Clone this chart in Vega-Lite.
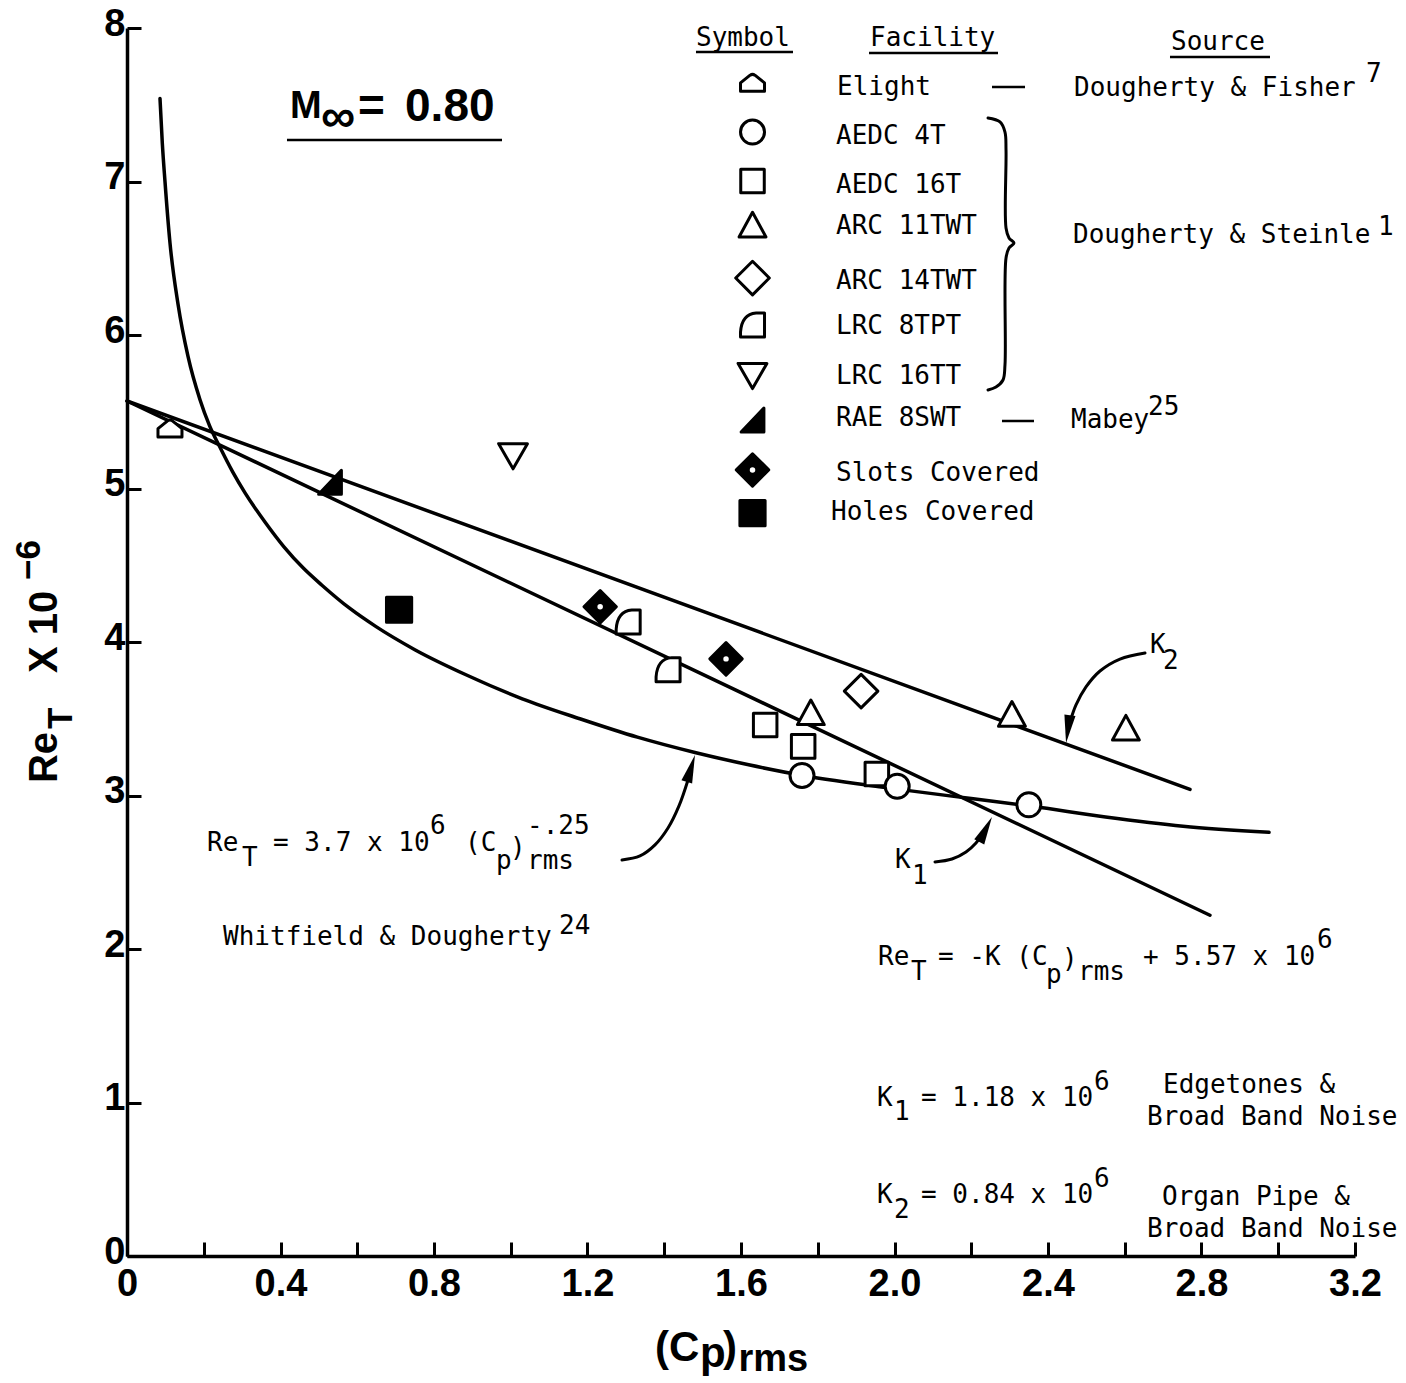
{
  "$schema": "https://vega.github.io/schema/vega-lite/v6.json",
  "width": 1228,
  "height": 1228,
  "autosize": {"type": "none"},
  "padding": {"left": 127, "top": 28, "right": 51, "bottom": 127},
  "background": "white",
  "config": {"view": {"stroke": null}},
  "datasets": {
    "pts": [
      {"type": "Elight", "x": 0.112, "y": 5.39},
      {"type": "LRC 8TPT", "x": 1.306, "y": 4.13},
      {"type": "LRC 8TPT", "x": 1.410, "y": 3.82},
      {"type": "RAE 8SWT", "x": 0.529, "y": 5.04},
      {"type": "LRC 16TT", "x": 1.006, "y": 5.21},
      {"type": "Holes Covered", "x": 0.709, "y": 4.21},
      {"type": "Slots Covered", "x": 1.233, "y": 4.23},
      {"type": "Slots Covered", "x": 1.561, "y": 3.89},
      {"type": "AEDC 16T", "x": 1.663, "y": 3.46},
      {"type": "AEDC 16T", "x": 1.762, "y": 3.32},
      {"type": "AEDC 16T", "x": 1.954, "y": 3.14},
      {"type": "ARC 11TWT", "x": 1.782, "y": 3.54},
      {"type": "ARC 11TWT", "x": 2.306, "y": 3.53},
      {"type": "ARC 11TWT", "x": 2.603, "y": 3.44},
      {"type": "ARC 14TWT", "x": 1.913, "y": 3.68},
      {"type": "AEDC 4T", "x": 1.759, "y": 3.13},
      {"type": "AEDC 4T", "x": 2.007, "y": 3.06},
      {"type": "AEDC 4T", "x": 2.350, "y": 2.94},
      {"type": "Elight", "x": 1.630, "y": 7.642},
      {"type": "AEDC 4T", "x": 1.630, "y": 7.322},
      {"type": "AEDC 16T", "x": 1.630, "y": 7.003},
      {"type": "ARC 11TWT", "x": 1.630, "y": 6.717},
      {"type": "ARC 14TWT", "x": 1.630, "y": 6.371},
      {"type": "LRC 8TPT", "x": 1.630, "y": 6.065},
      {"type": "LRC 16TT", "x": 1.630, "y": 5.733},
      {"type": "RAE 8SWT", "x": 1.630, "y": 5.446},
      {"type": "Slots Covered", "x": 1.630, "y": 5.121},
      {"type": "Holes Covered", "x": 1.630, "y": 4.840}
    ],
    "curve": [
      {"x": 0.086, "y": 7.54}, {"x": 0.092, "y": 7.25}, {"x": 0.099, "y": 7.00},
      {"x": 0.112, "y": 6.60}, {"x": 0.133, "y": 6.20}, {"x": 0.159, "y": 5.86},
      {"x": 0.190, "y": 5.58}, {"x": 0.215, "y": 5.41}, {"x": 0.242, "y": 5.27},
      {"x": 0.275, "y": 5.11}, {"x": 0.308, "y": 4.97}, {"x": 0.360, "y": 4.78},
      {"x": 0.409, "y": 4.62}, {"x": 0.460, "y": 4.48}, {"x": 0.508, "y": 4.37},
      {"x": 0.580, "y": 4.22}, {"x": 0.649, "y": 4.10}, {"x": 0.750, "y": 3.95},
      {"x": 0.889, "y": 3.78}, {"x": 1.030, "y": 3.63}, {"x": 1.180, "y": 3.50},
      {"x": 1.330, "y": 3.38}, {"x": 1.480, "y": 3.28}, {"x": 1.620, "y": 3.20},
      {"x": 1.762, "y": 3.13}, {"x": 2.012, "y": 3.04}, {"x": 2.200, "y": 2.98},
      {"x": 2.358, "y": 2.93}, {"x": 2.550, "y": 2.86}, {"x": 2.752, "y": 2.80},
      {"x": 2.976, "y": 2.76}
    ],
    "klines": [
      {"line": "K1", "x": 0, "y": 5.57}, {"line": "K1", "x": 2.822, "y": 2.22},
      {"line": "K2", "x": 0, "y": 5.57}, {"line": "K2", "x": 2.770, "y": 3.04}
    ],
    "arrows": [
      {"id": "pow", "o": 1, "x": 1.2899, "y": 2.580},
      {"id": "pow", "o": 2, "x": 1.3368, "y": 2.606},
      {"id": "pow", "o": 3, "x": 1.3759, "y": 2.678},
      {"id": "pow", "o": 4, "x": 1.4098, "y": 2.788},
      {"id": "pow", "o": 5, "x": 1.4384, "y": 2.932},
      {"id": "pow", "o": 6, "x": 1.4619, "y": 3.101},
      {"id": "k2", "o": 1, "x": 2.6528, "y": 3.928},
      {"id": "k2", "o": 2, "x": 2.5876, "y": 3.889},
      {"id": "k2", "o": 3, "x": 2.5355, "y": 3.811},
      {"id": "k2", "o": 4, "x": 2.4990, "y": 3.707},
      {"id": "k2", "o": 5, "x": 2.4730, "y": 3.590},
      {"id": "k2", "o": 6, "x": 2.4573, "y": 3.479},
      {"id": "k1", "o": 1, "x": 2.1055, "y": 2.567},
      {"id": "k1", "o": 2, "x": 2.1498, "y": 2.586},
      {"id": "k1", "o": 3, "x": 2.1863, "y": 2.632},
      {"id": "k1", "o": 4, "x": 2.2124, "y": 2.691},
      {"id": "k1", "o": 5, "x": 2.2280, "y": 2.743}
    ],
    "brace": [
      {"o": 1, "x": 2.2437, "y": 7.414}, {"o": 2, "x": 2.2749, "y": 7.388},
      {"o": 3, "x": 2.2879, "y": 7.322}, {"o": 4, "x": 2.2906, "y": 7.205},
      {"o": 5, "x": 2.2906, "y": 6.697}, {"o": 6, "x": 2.2984, "y": 6.632},
      {"o": 7, "x": 2.3114, "y": 6.599}, {"o": 8, "x": 2.2984, "y": 6.567},
      {"o": 9, "x": 2.2906, "y": 6.502}, {"o": 10, "x": 2.2879, "y": 5.805},
      {"o": 11, "x": 2.2827, "y": 5.707}, {"o": 12, "x": 2.2645, "y": 5.661},
      {"o": 13, "x": 2.2437, "y": 5.642}
    ],
    "segs": [
      {"name": "Symbol", "x": 1.4827, "x2": 1.7355, "y": 7.844},
      {"name": "Facility", "x": 1.9336, "x2": 2.2697, "y": 7.837},
      {"name": "Source", "x": 2.7179, "x2": 2.9785, "y": 7.811},
      {"name": "dash Elight", "x": 2.2541, "x2": 2.3401, "y": 7.616},
      {"name": "dash RAE", "x": 2.2801, "x2": 2.3635, "y": 5.440},
      {"name": "Mach", "x": 0.4169, "x2": 0.9772, "y": 7.270}
    ],
    "mono": [
      {"text": "Symbol", "x": 1.4827, "y": 7.935},
      {"text": "Facility", "x": 1.9362, "y": 7.935},
      {"text": "Source", "x": 2.7205, "y": 7.909},
      {"text": "Elight", "x": 1.8502, "y": 7.616},
      {"text": "AEDC 4T", "x": 1.8476, "y": 7.296},
      {"text": "AEDC 16T", "x": 1.8476, "y": 6.977},
      {"text": "ARC 11TWT", "x": 1.8476, "y": 6.710},
      {"text": "ARC 14TWT", "x": 1.8476, "y": 6.352},
      {"text": "LRC 8TPT", "x": 1.8476, "y": 6.059},
      {"text": "LRC 16TT", "x": 1.8476, "y": 5.733},
      {"text": "RAE 8SWT", "x": 1.8476, "y": 5.459},
      {"text": "Slots Covered", "x": 1.8476, "y": 5.101},
      {"text": "Holes Covered", "x": 1.8345, "y": 4.847},
      {"text": "Dougherty & Fisher", "x": 2.4678, "y": 7.609},
      {"text": "7", "x": 3.2287, "y": 7.700},
      {"text": "Dougherty & Steinle", "x": 2.4651, "y": 6.651},
      {"text": "1", "x": 3.2599, "y": 6.704},
      {"text": "Mabey", "x": 2.4599, "y": 5.446},
      {"text": "25", "x": 2.6606, "y": 5.531},
      {"text": "Re", "x": 0.2085, "y": 2.691},
      {"text": "T", "x": 0.2997, "y": 2.593},
      {"text": "= 3.7 x 10", "x": 0.3805, "y": 2.691},
      {"text": "6", "x": 0.7896, "y": 2.801},
      {"text": "(C", "x": 0.8808, "y": 2.691},
      {"text": "p", "x": 0.9616, "y": 2.573},
      {"text": ")", "x": 0.9980, "y": 2.66},
      {"text": "rms", "x": 1.0423, "y": 2.573},
      {"text": "-.25", "x": 1.0423, "y": 2.801},
      {"text": "Whitfield & Dougherty", "x": 0.2502, "y": 2.078},
      {"text": "24", "x": 1.1257, "y": 2.150},
      {"text": "Re", "x": 1.9570, "y": 1.948},
      {"text": "T", "x": 2.0430, "y": 1.850},
      {"text": "= -K (C", "x": 2.1134, "y": 1.948},
      {"text": "p", "x": 2.3948, "y": 1.831},
      {"text": ")", "x": 2.4365, "y": 1.935},
      {"text": "rms", "x": 2.4782, "y": 1.850},
      {"text": "+ 5.57 x 10", "x": 2.6476, "y": 1.948},
      {"text": "6", "x": 3.1010, "y": 2.059},
      {"text": "K", "x": 1.9544, "y": 1.029},
      {"text": "1", "x": 1.9987, "y": 0.938},
      {"text": "= 1.18 x 10", "x": 2.0691, "y": 1.029},
      {"text": "6", "x": 2.5199, "y": 1.134},
      {"text": "Edgetones &", "x": 2.6997, "y": 1.114},
      {"text": "Broad Band Noise", "x": 2.6580, "y": 0.906},
      {"text": "K", "x": 1.9544, "y": 0.397},
      {"text": "2", "x": 1.9987, "y": 0.300},
      {"text": "= 0.84 x 10", "x": 2.0691, "y": 0.397},
      {"text": "6", "x": 2.5199, "y": 0.502},
      {"text": "Organ Pipe &", "x": 2.6971, "y": 0.384},
      {"text": "Broad Band Noise", "x": 2.6580, "y": 0.176},
      {"text": "K", "x": 2.0013, "y": 2.580},
      {"text": "1", "x": 2.0456, "y": 2.476},
      {"text": "K", "x": 2.6658, "y": 3.980},
      {"text": "2", "x": 2.6997, "y": 3.876}
    ],
    "bold": [
      {"text": "M", "role": "sub", "x": 0.4248, "y": 7.485},
      {"text": "∞", "role": "inf", "x": 0.5055, "y": 7.414},
      {"text": "=", "role": "big", "x": 0.6020, "y": 7.485},
      {"text": "0.80", "role": "big", "x": 0.7245, "y": 7.485},
      {"text": "(C", "role": "main", "x": 1.3759, "y": -0.599},
      {"text": "p", "role": "main", "x": 1.4932, "y": -0.638},
      {"text": ")", "role": "main", "x": 1.5531, "y": -0.599},
      {"text": "rms", "role": "sub", "x": 1.5935, "y": -0.678},
      {"text": "Re", "role": "ymain", "x": -0.2137, "y": 3.081},
      {"text": "T", "role": "ysub", "x": -0.1720, "y": 3.433},
      {"text": "X 10", "role": "ymain", "x": -0.2137, "y": 3.798},
      {"text": "−6", "role": "ysub", "x": -0.2554, "y": 4.404}
    ],
    "heads": [
      {"id": "pow", "x": 1.4694, "y": 3.176},
      {"id": "k2", "x": 2.4521, "y": 3.433},
      {"id": "k1", "x": 2.2374, "y": 2.779}
    ]
  },
  "encoding": {
    "x": {
      "field": "x", "type": "quantitative",
      "scale": {"domain": [0, 3.2], "nice": false, "zero": false},
      "axis": {
        "title": null, "grid": false,
        "values": [0, 0.2, 0.4, 0.6, 0.8, 1, 1.2, 1.4, 1.6, 1.8, 2, 2.2, 2.4, 2.6, 2.8, 3, 3.2],
        "labelExpr": "datum.value == 0 ? '0' : (round(datum.value * 5) % 2 == 0 ? format(datum.value, '.1f') : '')",
        "domainColor": "black", "domainWidth": 3.5,
        "tickColor": "black", "tickWidth": 3, "tickSize": -14,
        "labelFont": "Liberation Sans", "labelFontWeight": "bold", "labelFontSize": 38,
        "labelColor": "black", "labelPadding": 23, "labelFlush": false, "labelOverlap": false
      }
    },
    "y": {
      "field": "y", "type": "quantitative",
      "scale": {"domain": [0, 8], "nice": false, "zero": false},
      "axis": {
        "title": null, "grid": false,
        "values": [0, 1, 2, 3, 4, 5, 6, 7, 8], "format": "d",
        "domainColor": "black", "domainWidth": 3.5,
        "tickColor": "black", "tickWidth": 3, "tickSize": -14,
        "labelFont": "Liberation Sans", "labelFontWeight": "bold", "labelFontSize": 38,
        "labelColor": "black", "labelPadding": 16, "labelOffset": -4, "labelFlush": false, "labelOverlap": false
      }
    }
  },
  "layer": [
    {
      "data": {"name": "curve"},
      "mark": {"type": "line", "color": "black", "strokeWidth": 3.5, "interpolate": "monotone", "strokeCap": "round"},
      "encoding": {}
    },
    {
      "data": {"name": "klines"},
      "mark": {"type": "line", "color": "black", "strokeWidth": 3.5, "strokeCap": "round"},
      "encoding": {"detail": {"field": "line"}}
    },
    {
      "data": {"name": "arrows"},
      "mark": {"type": "line", "color": "black", "strokeWidth": 3, "interpolate": "catmull-rom", "strokeCap": "round"},
      "encoding": {"detail": {"field": "id"}, "order": {"field": "o", "type": "quantitative"}}
    },
    {
      "data": {"name": "brace"},
      "mark": {"type": "line", "color": "black", "strokeWidth": 3, "interpolate": "catmull-rom", "strokeCap": "round"},
      "encoding": {"order": {"field": "o", "type": "quantitative"}}
    },
    {
      "data": {"name": "segs"},
      "mark": {"type": "rule", "color": "black", "strokeWidth": 2.5},
      "encoding": {"x2": {"field": "x2"}}
    },
    {
      "data": {"name": "heads"},
      "transform": [{"filter": "datum.id == 'pow'"}],
      "mark": {"type": "point", "filled": true, "color": "black", "opacity": 1, "size": 784, "angle": 17, "shape": "M0,-1L0.4,1L-0.4,1Z"},
      "encoding": {}
    },
    {
      "data": {"name": "heads"},
      "transform": [{"filter": "datum.id == 'k2'"}],
      "mark": {"type": "point", "filled": true, "color": "black", "opacity": 1, "size": 784, "angle": 188, "shape": "M0,-1L0.4,1L-0.4,1Z"},
      "encoding": {}
    },
    {
      "data": {"name": "heads"},
      "transform": [{"filter": "datum.id == 'k1'"}],
      "mark": {"type": "point", "filled": true, "color": "black", "opacity": 1, "size": 784, "angle": 27, "shape": "M0,-1L0.4,1L-0.4,1Z"},
      "encoding": {}
    },
    {
      "data": {"name": "pts"},
      "mark": {"type": "point", "filled": true, "size": 576, "stroke": "black", "strokeWidth": 3, "opacity": 1, "fillOpacity": 1, "strokeJoin": "round"},
      "encoding": {
        "shape": {
          "field": "type", "type": "nominal", "legend": null,
          "scale": {
            "domain": ["Elight", "AEDC 4T", "AEDC 16T", "ARC 11TWT", "ARC 14TWT", "LRC 8TPT", "LRC 16TT", "RAE 8SWT", "Slots Covered", "Holes Covered"],
            "range": [
              "M-1,0.7L1,0.7L1,0L0.2,-0.65Q0,-0.78,-0.2,-0.65L-1,0Z",
              "circle",
              "M-0.98,-0.98L0.98,-0.98L0.98,0.98L-0.98,0.98Z",
              "M0,-1.05L1.12,1L-1.12,1Z",
              "M0,-1.4L1.4,0L0,1.4L-1.4,0Z",
              "M-1,1L1,1L1,-1L0.3,-1Q-0.9,-0.9,-1,0.6Z",
              "M-1.2,-1.05L1.2,-1.05L0,1.05Z",
              "M0.95,-1L0.95,1L-0.95,1Z",
              "M0,-1.35L1.35,0L0,1.35L-1.35,0Z",
              "M-1.05,-1.05L1.05,-1.05L1.05,1.05L-1.05,1.05Z"
            ]
          }
        },
        "fill": {
          "field": "type", "type": "nominal", "legend": null,
          "scale": {
            "domain": ["Elight", "AEDC 4T", "AEDC 16T", "ARC 11TWT", "ARC 14TWT", "LRC 8TPT", "LRC 16TT", "RAE 8SWT", "Slots Covered", "Holes Covered"],
            "range": ["white", "white", "white", "white", "white", "white", "white", "black", "black", "black"]
          }
        }
      }
    },
    {
      "data": {"name": "pts"},
      "transform": [{"filter": "datum.type == 'Slots Covered'"}],
      "mark": {"type": "point", "shape": "circle", "filled": true, "color": "white", "opacity": 1, "size": 30},
      "encoding": {}
    },
    {
      "data": {"name": "mono"},
      "mark": {"type": "text", "font": "DejaVu Sans Mono", "fontSize": 26, "align": "left", "baseline": "middle", "color": "black"},
      "encoding": {"text": {"field": "text"}}
    },
    {
      "data": {"name": "bold"},
      "transform": [{"filter": "datum.role == 'main'"}],
      "mark": {"type": "text", "font": "Liberation Sans", "fontWeight": "bold", "fontSize": 42, "align": "left", "baseline": "middle", "color": "black"},
      "encoding": {"text": {"field": "text"}}
    },
    {
      "data": {"name": "bold"},
      "transform": [{"filter": "datum.role == 'big'"}],
      "mark": {"type": "text", "font": "Liberation Sans", "fontWeight": "bold", "fontSize": 46, "align": "left", "baseline": "middle", "color": "black"},
      "encoding": {"text": {"field": "text"}}
    },
    {
      "data": {"name": "bold"},
      "transform": [{"filter": "datum.role == 'sub'"}],
      "mark": {"type": "text", "font": "Liberation Sans", "fontWeight": "bold", "fontSize": 38, "align": "left", "baseline": "middle", "color": "black"},
      "encoding": {"text": {"field": "text"}}
    },
    {
      "data": {"name": "bold"},
      "transform": [{"filter": "datum.role == 'inf'"}],
      "mark": {"type": "text", "font": "Liberation Sans", "fontWeight": "bold", "fontSize": 48, "align": "left", "baseline": "middle", "color": "black"},
      "encoding": {"text": {"field": "text"}}
    },
    {
      "data": {"name": "bold"},
      "transform": [{"filter": "datum.role == 'ymain'"}],
      "mark": {"type": "text", "font": "Liberation Sans", "fontWeight": "bold", "fontSize": 40, "align": "left", "baseline": "middle", "angle": 270, "color": "black"},
      "encoding": {"text": {"field": "text"}}
    },
    {
      "data": {"name": "bold"},
      "transform": [{"filter": "datum.role == 'ysub'"}],
      "mark": {"type": "text", "font": "Liberation Sans", "fontWeight": "bold", "fontSize": 35, "align": "left", "baseline": "middle", "angle": 270, "color": "black"},
      "encoding": {"text": {"field": "text"}}
    }
  ]
}
